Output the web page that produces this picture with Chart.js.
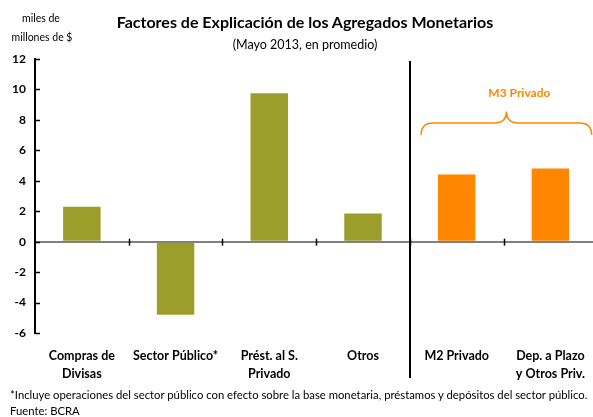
<!DOCTYPE html>
<html><head><meta charset="utf-8">
<script src="https://cdn.jsdelivr.net/npm/chart.js@4/dist/chart.umd.min.js"></script>
<style>
html,body{margin:0;padding:0;background:#fff;overflow:hidden}
#wrap{position:relative;width:593px;height:417px;overflow:hidden;font-family:Lato,"Open Sans",sans-serif;color:#000}
#wrap canvas{position:absolute;left:0;top:0}
.t{position:absolute;white-space:nowrap;line-height:1}
</style></head><body>
<div id="wrap">
<canvas id="c" width="599" height="417"></canvas>
<div class="t" style="left:305px;top:14px;transform:translateX(-50%);font-weight:bold;font-size:16px">Factores de Explicación de los Agregados Monetarios</div>
<div class="t" style="left:305px;top:39px;transform:translateX(-50%);font-size:12.5px">(Mayo 2013, en promedio)</div>
<div class="t" style="left:41px;top:13px;transform:translateX(-50%);font-size:10.5px">miles de</div>
<div class="t" style="left:42px;top:32px;transform:translateX(-50%);font-size:10.5px">millones de $</div>
<div class="t" style="left:10px;top:389px;font-size:11.3px">*Incluye operaciones del sector público con efecto sobre la base monetaria, préstamos y depósitos del sector público.</div>
<div class="t" style="left:10px;top:405px;font-size:11.3px">Fuente: BCRA</div>
</div>
<script>
const categories = [
  ["Compras de", "Divisas"],
  ["Sector Público*"],
  ["Prést. al S.", "Privado"],
  ["Otros"],
  ["M2 Privado"],
  ["Dep. a Plazo", "y Otros Priv."]
];
const values = [2.3, -4.8, 9.75, 1.85, 4.42, 4.81];
const yTicks = [-6, -4, -2, 0, 2, 4, 6, 8, 10, 12];
const m3Label = "M3 Privado";
const m3StartIndex = 4;

const OLIVE = "#9c9e2c";
const ORANGE = "#ff8700";
const FONT = "Lato, 'Open Sans', sans-serif";

const decor = {
  id: "decor",
  afterDatasetsDraw(chart) {
    const { ctx, chartArea: a, scales: { x, y } } = chart;
    const y0 = y.getPixelForValue(0);
    const cw = x.getPixelForValue(1) - x.getPixelForValue(0);
    ctx.save();
    ctx.strokeStyle = "#000";
    ctx.lineWidth = 1.5;
    yTicks.forEach(v => {
      const py = Math.round(y.getPixelForValue(v)) + 0.5;
      ctx.beginPath(); ctx.moveTo(a.left, py); ctx.lineTo(a.left + 5, py); ctx.stroke();
    });
    for (let i = 1; i < categories.length; i++) {
      const bx = Math.round((x.getPixelForValue(i - 1) + x.getPixelForValue(i)) / 2) + 0.5;
      ctx.beginPath(); ctx.moveTo(bx, y0 - 3); ctx.lineTo(bx, y0 + 4); ctx.stroke();
    }
    const sx = Math.round((x.getPixelForValue(m3StartIndex - 1) + x.getPixelForValue(m3StartIndex)) / 2);
    ctx.lineWidth = 2;
    ctx.beginPath(); ctx.moveTo(sx, a.top + 2); ctx.lineTo(sx, 378); ctx.stroke();
    const x1 = x.getPixelForValue(m3StartIndex) - 0.38 * cw;
    const x2 = x.getPixelForValue(categories.length - 1) + 0.44 * cw;
    const xm = (x1 + x2) / 2;
    const yTop = y.getPixelForValue(7.8), yEnd = y.getPixelForValue(7.0), yPeak = y.getPixelForValue(8.55);
    const r = 12;
    ctx.strokeStyle = ORANGE; ctx.lineWidth = 1.5;
    ctx.beginPath();
    ctx.moveTo(x1, yEnd);
    ctx.quadraticCurveTo(x1, yTop, x1 + r, yTop);
    ctx.lineTo(xm - r, yTop);
    ctx.quadraticCurveTo(xm, yTop, xm, yPeak);
    ctx.quadraticCurveTo(xm, yTop, xm + r, yTop);
    ctx.lineTo(x2 - r, yTop);
    ctx.quadraticCurveTo(x2, yTop, x2, yEnd);
    ctx.stroke();
    ctx.fillStyle = ORANGE;
    ctx.font = "bold 12px " + FONT;
    ctx.textAlign = "center"; ctx.textBaseline = "middle";
    ctx.fillText(m3Label, xm + 13, y.getPixelForValue(9.75));
    ctx.restore();
  }
};

new Chart(document.getElementById("c"), {
  type: "bar",
  data: {
    labels: categories,
    datasets: [{
      label: "Factores",
      data: values,
      backgroundColor: ctx => ctx.dataIndex >= m3StartIndex ? ORANGE : OLIVE,
      borderWidth: 0,
      barPercentage: 0.4,
      categoryPercentage: 1
    }]
  },
  options: {
    responsive: false,
    animation: false,
    devicePixelRatio: 1,
    layout: { padding: { top: 59, left: 0, right: 0, bottom: 32 } },
    plugins: { legend: { display: false }, tooltip: { enabled: false } },
    scales: {
      x: {
        grid: { display: false, drawTicks: false },
        border: { display: false },
        ticks: { color: "#000", font: { family: FONT, size: 12.5, weight: "bold", lineHeight: 1.44 }, padding: 14, maxRotation: 0, autoSkip: false },
        afterFit: s => { s.height = 52; }
      },
      y: {
        min: -6, max: 12,
        grid: {
          drawTicks: false,
          color: c => (c.tick && c.tick.value === 0) ? "#808080" : "rgba(0,0,0,0)",
          lineWidth: 2
        },
        border: { color: "#000", width: 2 },
        ticks: { stepSize: 2, color: "#000", padding: 9, font: { family: FONT, size: 12, weight: "bold" } },
        afterFit: s => { s.width = 35; }
      }
    }
  },
  plugins: [decor]
});
</script>
</body></html>
